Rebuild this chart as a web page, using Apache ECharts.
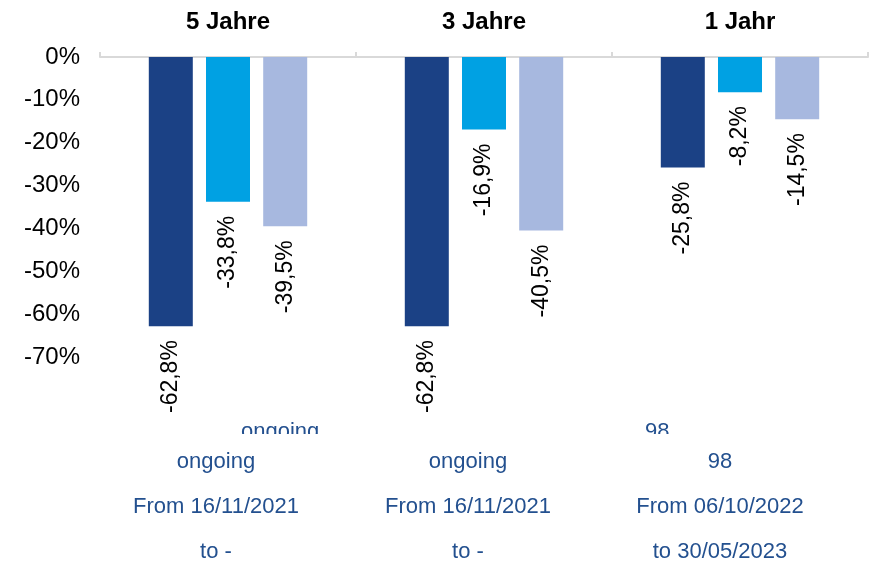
<!DOCTYPE html>
<html>
<head>
<meta charset="utf-8">
<script src="https://cdn.jsdelivr.net/npm/echarts@6/dist/echarts.min.js"></script>
<style>html,body{margin:0;padding:0;background:#fff}#chart{width:874px;height:561px}</style>
</head>
<body>
<div id="chart"></div>
<script>
const categories = ['5 Jahre', '3 Jahre', '1 Jahr'];
const durations = ['ongoing', 'ongoing', '98'];
const fromDates = ['From 16/11/2021', 'From 16/11/2021', 'From 06/10/2022'];
const toDates = ['to -', 'to -', 'to 30/05/2023'];
const seriesA = [-62.8, -62.8, -25.8];
const seriesB = [-33.8, -16.9, -8.2];
const seriesC = [-39.5, -40.5, -14.5];
const yTicks = [0, -10, -20, -30, -40, -50, -60, -70];

const FONT = '"Liberation Sans", Arial, sans-serif';
const labelPads = [[0, 24, 0, 0], [0, 32, 0, 0], [0, 40, 0, 0]];
const bottomLabels = categories.map((c, i) => ({
  value: durations[i] + '\n' + fromDates[i] + '\n' + toDates[i],
  textStyle: { padding: labelPads[i] }
}));

function fmt(v) { return v.toFixed(1).replace('.', ',') + '%'; }

const labelCfg = {
  show: true,
  position: 'bottom',
  distance: 14,
  rotate: 90,
  align: 'right',
  verticalAlign: 'middle',
  color: '#000',
  fontFamily: FONT,
  fontSize: 23,
  formatter: p => fmt(p.value)
};

function mk(name, data, color) {
  return {
    name, type: 'bar', data, barWidth: 44, barGap: '30%',
    xAxisIndex: 0,
    itemStyle: { color },
    label: labelCfg
  };
}

const chart = echarts.init(document.getElementById('chart'));
chart.setOption({
  animation: false,
  grid: { left: 100, right: 6, top: 57, bottom: 204, containLabel: false, outerBoundsMode: 'none' },
  xAxis: [
    {
      type: 'category', data: categories, position: 'top',
      axisLine: { show: true, lineStyle: { color: '#D9D9D9', width: 2 } },
      axisTick: { show: true, length: 5, lineStyle: { color: '#D9D9D9', width: 2 } },
      axisLabel: { margin: 23, color: '#000', fontWeight: 'bold', fontSize: 24, fontFamily: FONT }
    },
    {
      type: 'category', data: bottomLabels, position: 'bottom',
      axisLine: { show: false }, axisTick: { show: false },
      axisLabel: {
        margin: 82, color: '#23508F', fontSize: 22, fontFamily: FONT,
        lineHeight: 45
      }
    }
  ],
  yAxis: {
    type: 'value', min: -70, max: 0, interval: 10,
    axisLine: { show: false }, axisTick: { show: false }, splitLine: { show: false },
    axisLabel: { margin: 20, color: '#000', fontSize: 24, fontFamily: FONT, formatter: v => v + '%' }
  },
  series: [
    mk('A', seriesA, '#1B4185'),
    mk('B', seriesB, '#00A1E3'),
    mk('C', seriesC, '#A7B8DF')
  ],
  graphic: [
    { type: 'text', left: 241, top: 421, z: 10, style: { text: durations[0], fill: '#23508F', font: '22px ' + FONT } },
    { type: 'text', left: 645, top: 421, z: 10, style: { text: durations[2], fill: '#23508F', font: '22px ' + FONT } },
    { type: 'rect', left: 200, top: 434, z: 20, shape: { width: 520, height: 12 }, style: { fill: '#fff' } }
  ]
});
</script>
</body>
</html>
